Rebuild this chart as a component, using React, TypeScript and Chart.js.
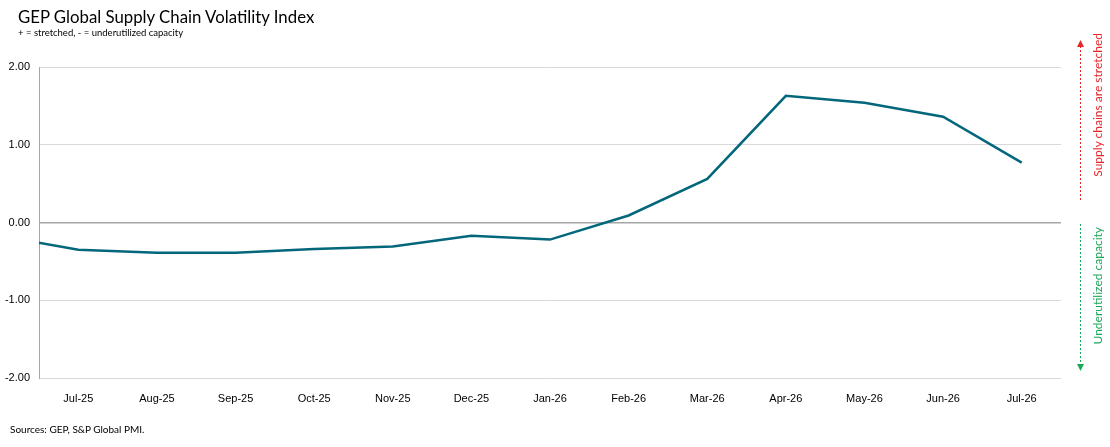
import { useEffect, useRef } from "react";
import { Chart, registerables } from "chart.js";

Chart.register(...registerables);

// Jun-25 sits just left of the plot edge, only its slope shows
const months = ["Jun-25", "Jul-25", "Aug-25", "Sep-25", "Oct-25", "Nov-25", "Dec-25", "Jan-26", "Feb-26", "Mar-26", "Apr-26", "May-26", "Jun-26", "Jul-26"];
const volatility = [-0.17, -0.35, -0.39, -0.39, -0.34, -0.31, -0.17, -0.22, 0.09, 0.56, 1.63, 1.54, 1.36, 0.77];
const yTicks = [-2, -1, 0, 1, 2];

const axisFont = { family: "'Liberation Sans', Arial, sans-serif", size: 11 };

export default function App() {
    const canvasRef: any = useRef(null);

    useEffect(() => {
        document.body.style.margin = "0";
        const ctx = canvasRef.current.getContext("2d");
        const points = volatility.map((v, i) => ({ x: i - 1, y: v }));

        const chart = new Chart(ctx, {
            type: "line",
            data: {
                datasets: [{
                    data: points,
                    borderColor: "#03677c",
                    borderWidth: 2.5,
                    pointRadius: 0,
                    tension: 0,
                    fill: false,
                    clip: 0,
                }],
            },
            options: {
                animation: false,
                responsive: false,
                maintainAspectRatio: false,
                layout: { padding: { top: 67, right: 49, bottom: 38, left: 0 } },
                plugins: { legend: { display: false }, tooltip: { enabled: false } },
                scales: {
                    x: {
                        type: "linear",
                        min: -0.5,
                        max: 12.5,
                        afterBuildTicks: (scale: any) => {
                            scale.ticks = months.slice(1).map((_, i) => ({ value: i }));
                        },
                        afterFit: (scale: any) => { scale.height = 31; },
                        grid: { display: false },
                        border: { display: false },
                        ticks: {
                            autoSkip: false,
                            maxRotation: 0,
                            padding: 6,
                            color: "#000",
                            font: axisFont,
                            callback: (v: any) => months[Number(v) + 1] ?? "",
                        },
                    },
                    y: {
                        min: -2,
                        max: 2,
                        afterBuildTicks: (scale: any) => {
                            scale.ticks = yTicks.map((v) => ({ value: v }));
                        },
                        afterFit: (scale: any) => { scale.width = 39; },
                        grid: {
                            color: (c: any) => (c.tick && c.tick.value === 0 ? "#a6a6a6" : "#d9d9d9"),
                            lineWidth: (c: any) => (c.tick && c.tick.value === 0 ? 1.5 : 1),
                            drawTicks: false,
                        },
                        border: { display: true, color: "#a6a6a6", width: 1 },
                        ticks: {
                            padding: 9,
                            color: "#000",
                            font: axisFont,
                            callback: (v: any) => Number(v).toFixed(2),
                        },
                    },
                },
            },
        });

        return () => {
            chart.destroy();
        };
    }, []);

    const textFont = "Lato, 'Noto Sans', sans-serif";

    return (
        <div style={{ position: "relative", width: 1110, height: 447, background: "#fff", overflow: "hidden" }}>
            <canvas ref={canvasRef} width={1110} height={447} style={{ position: "absolute", left: 0, top: 0 }}></canvas>
            <div style={{ position: "absolute", left: 18, top: 6, fontFamily: textFont, fontSize: 16.8, lineHeight: "22px", color: "#000" }}>
                GEP Global Supply Chain Volatility Index
            </div>
            <div style={{ position: "absolute", left: 18, top: 27, fontFamily: textFont, fontSize: 9.5, lineHeight: "12px", color: "#000" }}>
                + = stretched, - = underutilized capacity
            </div>
            <div style={{ position: "absolute", left: 10, top: 422, fontFamily: textFont, fontSize: 10, lineHeight: "14px", color: "#000" }}>
                Sources: GEP, S&amp;P Global PMI.
            </div>
            <svg width={1110} height={447} style={{ position: "absolute", left: 0, top: 0, pointerEvents: "none" }}>
                <line x1={1080.5} y1={46} x2={1080.5} y2={200} stroke="#e8262a" strokeWidth={1} strokeDasharray="2,2" />
                <polygon points="1080.5,40 1077,47 1084,47" fill="#e8262a" />
                <line x1={1080.5} y1={224} x2={1080.5} y2={364} stroke="#1aa85a" strokeWidth={1} strokeDasharray="2,2" />
                <polygon points="1080.5,371 1077,364 1084,364" fill="#1aa85a" />
            </svg>
            <div style={{ position: "absolute", left: 1098, top: 33, width: 0, height: 0 }}>
                <div style={{
                    position: "absolute", right: 0, top: 0, transformOrigin: "100% 50%", whiteSpace: "nowrap",
                    transform: "translate(0, -50%) rotate(-90deg)", fontFamily: textFont, fontSize: 12, lineHeight: "14px", color: "#e8262a",
                }}>
                    Supply chains are stretched
                </div>
            </div>
            <div style={{ position: "absolute", left: 1098, top: 227, width: 0, height: 0 }}>
                <div style={{
                    position: "absolute", right: 0, top: 0, transformOrigin: "100% 50%", whiteSpace: "nowrap",
                    transform: "translate(0, -50%) rotate(-90deg)", fontFamily: textFont, fontSize: 12, lineHeight: "14px", color: "#1aa85a",
                }}>
                    Underutilized capacity
                </div>
            </div>
        </div>
    );
}
